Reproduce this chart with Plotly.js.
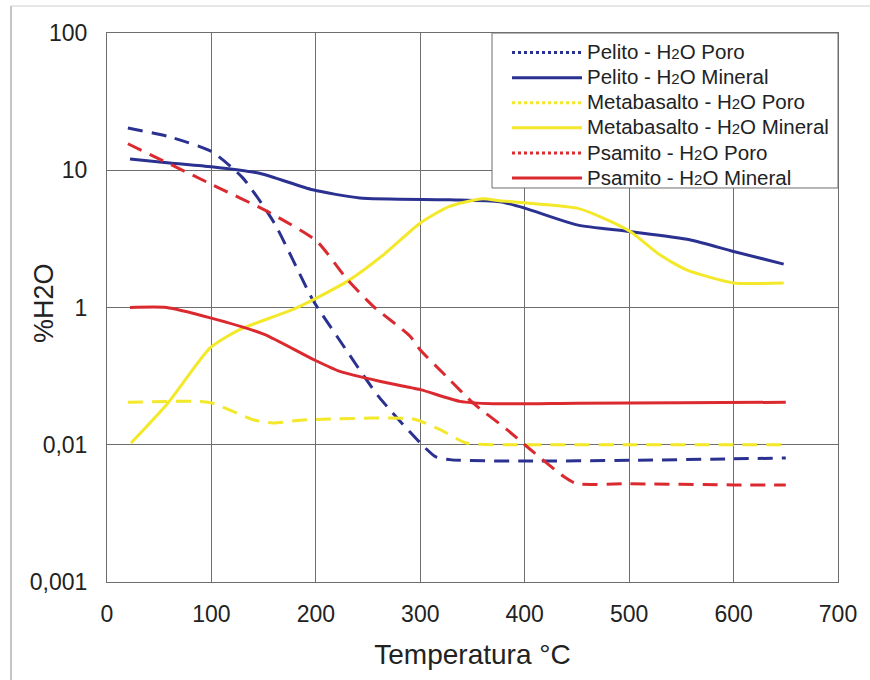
<!DOCTYPE html>
<html>
<head>
<meta charset="utf-8">
<script src="https://cdn.plot.ly/plotly-3.0.1.min.js"></script>
<style>html,body{margin:0;padding:0;background:#fff;}#chart{width:870px;height:680px;}</style>
</head>
<body>
<div id="chart"></div>
<script>
// Temperature (°C) and %H2O values
const pelitoPoroX = [20, 60, 100, 130, 160, 197, 220, 260, 300, 315, 330, 400, 500, 600, 650];
const pelitoPoroY = [20.3, 17.5, 13.7, 8.8, 4.15, 1.14, 0.62, 0.225, 0.103, 0.0815, 0.0776, 0.076, 0.077, 0.079, 0.080];

const pelitoMinX = [22, 60, 100, 146, 197, 242, 328, 376, 400, 450, 500, 558, 600, 648];
const pelitoMinY = [12.1, 11.3, 10.6, 9.5, 7.2, 6.28, 6.1, 5.9, 5.3, 4.0, 3.58, 3.12, 2.56, 2.07];

const metaPoroX = [20, 90, 102, 140, 159, 185, 213, 293, 319, 344, 400, 500, 600, 650];
const metaPoroY = [0.204, 0.207, 0.2, 0.152, 0.144, 0.151, 0.154, 0.154, 0.129, 0.103, 0.1, 0.1, 0.1, 0.1];

const metaMinX = [23, 58, 99, 127, 181, 230, 265, 300, 328, 360, 376, 450, 472, 501, 529, 555, 600, 648];
const metaMinY = [0.103, 0.2, 0.51, 0.69, 0.99, 1.55, 2.43, 4.13, 5.45, 6.2, 6.0, 5.3, 4.6, 3.58, 2.43, 1.88, 1.51, 1.51];

const psamPoroX = [20, 100, 156, 201, 230, 255, 290, 300, 325, 351, 383, 400, 437, 450, 500, 600, 650];
const psamPoroY = [15.6, 7.9, 4.9, 3.03, 1.6, 1.02, 0.62, 0.49, 0.315, 0.2, 0.129, 0.1, 0.059, 0.052, 0.052, 0.051, 0.051];

const psamMinX = [22, 57, 99, 150, 198, 223, 261, 300, 338, 370, 450, 550, 650];
const psamMinY = [1.0, 1.0, 0.84, 0.64, 0.417, 0.342, 0.29, 0.252, 0.207, 0.199, 0.201, 0.202, 0.204];

const yTickVals = [0.01, 0.1, 1, 10, 100];
const yTickText = ['0,001', '0,01', '1', '10', '100'];
const xTickVals = [0, 100, 200, 300, 400, 500, 600, 700];

const BLUE = '#2b3190', YELLOW = '#f3e829', RED = '#db2a2f';

function legName(rock, kind) {
  return '<span style="font-size:20.5px">' + rock + ' - H<span style="font-size:15px">2</span>O ' + kind + '</span>';
}
function curve(x, y, color, dashed) {
  return {x: x, y: y, type: 'scatter', mode: 'lines', showlegend: false, hoverinfo: 'skip',
    line: {color: color, width: 3, dash: dashed ? '15px,9px' : 'solid', shape: 'spline', smoothing: 0.6}};
}
function legendItem(name, color, dotted) {
  return {x: [null], y: [null], type: 'scatter', mode: 'lines', name: name,
    line: {color: color, width: 3, dash: dotted ? '3px,3px' : 'solid'}};
}

const data = [
  curve(pelitoPoroX, pelitoPoroY, BLUE, true),
  curve(pelitoMinX, pelitoMinY, BLUE, false),
  curve(metaPoroX, metaPoroY, YELLOW, true),
  curve(metaMinX, metaMinY, YELLOW, false),
  curve(psamPoroX, psamPoroY, RED, true),
  curve(psamMinX, psamMinY, RED, false),
  legendItem(legName('Pelito', 'Poro'), BLUE, true),
  legendItem(legName('Pelito', 'Mineral'), BLUE, false),
  legendItem(legName('Metabasalto', 'Poro'), YELLOW, true),
  legendItem(legName('Metabasalto', 'Mineral'), YELLOW, false),
  legendItem(legName('Psamito', 'Poro'), RED, true),
  legendItem(legName('Psamito', 'Mineral'), RED, false)
];

const FONT = 'Liberation Sans, Arial, sans-serif';
const layout = {
  width: 870, height: 680,
  margin: {l: 107, r: 32, t: 33, b: 98},
  paper_bgcolor: '#fff', plot_bgcolor: '#fff',
  font: {family: FONT, color: '#222'},
  xaxis: {
    range: [0, 700], tickvals: xTickVals, ticks: '',
    showgrid: true, gridcolor: '#6e6e6e', gridwidth: 1,
    showline: true, linecolor: '#6e6e6e', linewidth: 1, mirror: true,
    zeroline: false, tickfont: {size: 23, family: FONT, color: '#222'},
    ticklabelstandoff: 11,
    title: {text: 'Temperatura °C', font: {size: 28, family: FONT, color: '#222'}, standoff: 18}
  },
  yaxis: {
    type: 'log', range: [-2, 2], tickvals: yTickVals, ticktext: yTickText, ticks: '',
    showgrid: true, gridcolor: '#6e6e6e', gridwidth: 1,
    showline: true, linecolor: '#6e6e6e', linewidth: 1, mirror: true,
    zeroline: false, tickfont: {size: 23, family: FONT, color: '#222'},
    ticklabelstandoff: 14
  },
  legend: {
    x: 0.5472, xanchor: 'left', y: 0.9964, yanchor: 'top',
    bgcolor: 'rgba(0,0,0,0)', borderwidth: 0,
    font: {size: 17, family: FONT, color: '#222'},
    itemwidth: 70, tracegroupgap: 0
  },
  annotations: [
    {text: '%H2O', xref: 'paper', yref: 'paper', x: -0.0862, y: 0.508, xanchor: 'center', yanchor: 'middle',
     textangle: -90, showarrow: false, font: {size: 27, family: FONT, color: '#222'}}
  ],
  shapes: [
    {type: 'line', xref: 'paper', yref: 'paper', x0: -0.1313, x1: -0.1313, y0: -0.3, y1: 1.0492,
     line: {color: '#8a8a8a', width: 1}},
    {type: 'line', xref: 'paper', yref: 'paper', x0: -0.1313, x1: 1.2, y0: 1.0492, y1: 1.0492,
     line: {color: '#cfcfcf', width: 1}},
    {type: 'rect', xref: 'paper', yref: 'paper', x0: 0.5267, x1: 1, y0: 0.7177, y1: 1, layer: 'above',
     fillcolor: '#fff', line: {color: '#6e6e6e', width: 1}}
  ]
};

Plotly.newPlot('chart', data, layout, {displayModeBar: false, staticPlot: true});
</script>
</body>
</html>
